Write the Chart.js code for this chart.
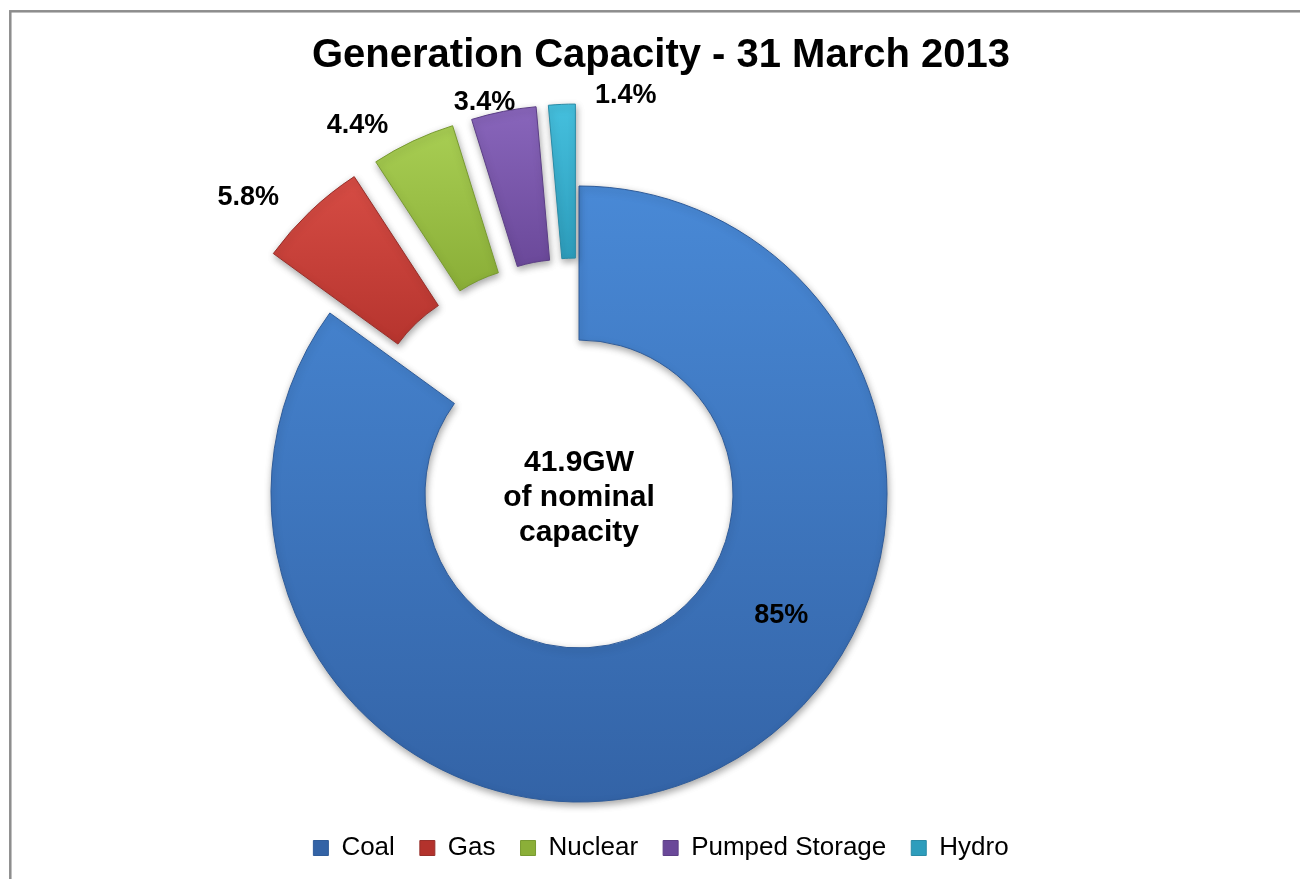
<!DOCTYPE html>
<html>
<head>
<meta charset="utf-8">
<script src="https://cdn.jsdelivr.net/npm/chart.js@4.4.1/dist/chart.umd.min.js"></script>
<style>
  html, body { margin: 0; padding: 0; background: #fff; overflow: hidden; }
  #wrap { position: relative; width: 1300px; height: 879px; }
</style>
</head>
<body>
<div id="wrap"><canvas id="c" width="1300" height="879"></canvas></div>
<script>
// ---- data ----
const chartTitle = 'Generation Capacity - 31 March 2013';
const categories = ['Coal', 'Gas', 'Nuclear', 'Pumped Storage', 'Hydro'];
const shares = [85, 5.8, 4.4, 3.4, 1.4];          // % of nominal capacity
const centerLines = ['41.9GW', 'of nominal', 'capacity'];

// ---- styles ----
const FONT = '"Liberation Sans", Arial, Helvetica, sans-serif';
const palette = [
  { y0: 120, y1: 810, c0: '#4B8DDB', c1: '#3363A6', edge: '#2F5C9A' },   // Coal
  { y0: 230, y1: 420, c0: '#D74D45', c1: '#B3322C', edge: '#98302B' },   // Gas
  { y0: 190, y1: 360, c0: '#AAD055', c1: '#8BAF38', edge: '#789A31' },   // Nuclear
  { y0: 180, y1: 350, c0: '#8A67BD', c1: '#6A4899', edge: '#5C3F86' },   // Pumped Storage
  { y0: 180, y1: 340, c0: '#46C1DF', c1: '#2D9DBC', edge: '#2A8BA6' }    // Hydro
];
const explodeDist = [0, 82, 82, 82, 82];
// label placement relative to each slice: angular shift (deg) and distance beyond outer edge (px)
const labelPlace = [
  { da: -32, dr: -72 },
  { da: -4.6, dr: 54 },
  { da: -5.8, dr: 40 },
  { da: -2.4, dr: 13 },
  { da: 9.2, dr: 11 }
];

function sliceFill(c) {
  const p = palette[c.dataIndex % palette.length];
  const g = c.chart.ctx.createLinearGradient(0, p.y0, 0, p.y1);
  g.addColorStop(0, p.c0);
  g.addColorStop(1, p.c1);
  return g;
}

// frame around the picture
const framePlugin = {
  id: 'frame',
  beforeDraw(chart) {
    const ctx = chart.ctx;
    ctx.save();
    ctx.fillStyle = '#ffffff';
    ctx.fillRect(0, 0, chart.width, chart.height);
    ctx.strokeStyle = '#8d8d8d';
    ctx.lineWidth = 2.5;
    ctx.strokeRect(10.3, 11.3, chart.width + 50, chart.height + 50);
    ctx.restore();
  }
};

// reserve space on the right so the ring sits left of the title/legend centre
const spacerPlugin = {
  id: 'spacer',
  beforeInit(chart) {
    if (!Chart.layouts) return;
    const box = {
      position: 'right', weight: 0, fullSize: false, options: {},
      top: 0, left: 0, right: 0, bottom: 0, width: 0, height: 0,
      update(maxWidth, maxHeight) { this.width = 164; this.height = maxHeight; },
      isHorizontal() { return false; },
      draw() {}
    };
    Chart.layouts.addBox(chart, box);
  }
};

// exploded slices (pure translation) + soft shadow
const explodePlugin = {
  id: 'explode',
  beforeDatasetDraw(chart, args) {
    args.meta.data.forEach((arc, i) => {
      if (arc.__wrapped) return;
      const orig = arc.draw;
      arc.draw = function (ctx, area) {
        const d = explodeDist[i] || 0;
        const mid = (this.startAngle + this.endAngle) / 2;
        ctx.save();
        ctx.translate(Math.cos(mid) * d, Math.sin(mid) * d);
        ctx.shadowColor = 'rgba(0,0,0,0.35)';
        ctx.shadowBlur = 7;
        ctx.shadowOffsetX = 1;
        ctx.shadowOffsetY = 3;
        orig.call(this, ctx, area);
        ctx.restore();
      };
      arc.__wrapped = true;
    });
  }
};

// percentage labels + centre text
const labelPlugin = {
  id: 'sliceLabels',
  afterDatasetsDraw(chart) {
    const meta = chart.getDatasetMeta(0);
    const ctx = chart.ctx;
    ctx.save();
    ctx.fillStyle = '#000';
    ctx.textAlign = 'center';
    ctx.textBaseline = 'middle';
    ctx.font = 'bold 27px ' + FONT;
    let cx = 0, cy = 0;
    meta.data.forEach((arc, i) => {
      const p = arc.getProps(['x', 'y', 'startAngle', 'endAngle', 'outerRadius'], true);
      cx = p.x; cy = p.y;
      const place = labelPlace[i];
      const a = (p.startAngle + p.endAngle) / 2 + place.da * Math.PI / 180;
      const r = p.outerRadius + (explodeDist[i] || 0) + place.dr;
      ctx.fillText(shares[i] + '%', p.x + Math.cos(a) * r, p.y + Math.sin(a) * r);
    });
    ctx.font = 'bold 30px ' + FONT;
    const lh = 35;
    centerLines.forEach((t, k) => {
      ctx.fillText(t, cx, cy + 4 + (k - (centerLines.length - 1) / 2) * lh);
    });
    ctx.restore();
  }
};

Chart.defaults.font.family = FONT;
Chart.defaults.color = '#000';

new Chart(document.getElementById('c'), {
  type: 'doughnut',
  data: {
    labels: categories,
    datasets: [{
      data: shares,
      backgroundColor: sliceFill,
      borderColor: palette.map(p => p.edge),
      borderWidth: 1,
      clip: false
    }]
  },
  options: {
    responsive: false,
    devicePixelRatio: 1,
    animation: false,
    radius: 308,
    cutout: '50%',
    layout: { padding: { left: 22, right: 0, top: 0, bottom: 8 } },
    plugins: {
      tooltip: { enabled: false },
      title: {
        display: true,
        text: chartTitle,
        align: 'center',
        color: '#000',
        font: { size: 40, weight: 'bold', family: FONT, lineHeight: 1.2 },
        padding: { top: 32, bottom: 98 }
      },
      legend: {
        display: true,
        position: 'bottom',
        align: 'center',
        labels: {
          boxWidth: 15,
          boxHeight: 15,
          padding: 25,
          color: '#000',
          font: { size: 26, family: FONT }
        }
      }
    }
  },
  plugins: [framePlugin, spacerPlugin, explodePlugin, labelPlugin]
});
</script>
</body>
</html>
